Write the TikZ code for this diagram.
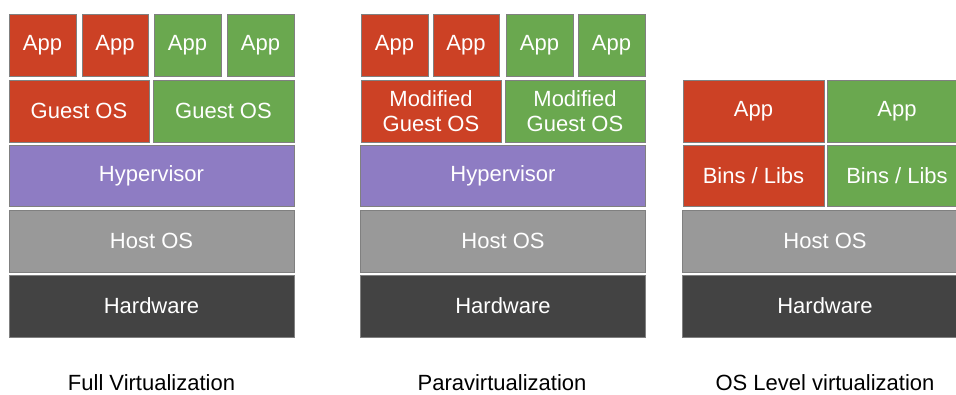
\documentclass[tikz,border=0pt]{standalone}
\usepackage{fontspec}
\setmainfont{Liberation Sans}
\definecolor{appred}{HTML}{CC4125}
\definecolor{appgreen}{HTML}{6AA84F}
\definecolor{hyppurple}{HTML}{8E7CC3}
\definecolor{hostgray}{HTML}{999999}
\definecolor{hwdark}{HTML}{434343}
\begin{document}
\begin{tikzpicture}[x=1pt,y=-1pt,
  box/.style={draw=black!50,line width=.8pt,text=white,inner sep=0pt,minimum height=62pt,
    align=center,font=\fontsize{22}{25}\selectfont},
  redbox/.style={box,fill=appred},
  greenbox/.style={box,fill=appgreen},
  hypbox/.style={box,fill=hyppurple,minimum width=285pt,minimum height=61pt},
  hostbox/.style={box,fill=hostgray,minimum width=285pt},
  hwbox/.style={box,fill=hwdark,minimum width=285pt},
  caption/.style={font=\fontsize{22}{25}\selectfont}]
\clip (0,0) rectangle (956,394);
% full virtualization
\node (fapp1) at (42.5,45) [redbox,minimum width=67pt] {App};
\node (fapp2) at (115,45) [redbox,minimum width=66pt] {App};
\node (fapp3) at (187.5,45) [greenbox,minimum width=67pt] {App};
\node (fapp4) at (260.5,45) [greenbox,minimum width=67pt] {App};
\node (fgos1) at (79,111) [redbox,minimum width=140pt] {Guest OS};
\node (fgos2) at (223.5,111) [greenbox,minimum width=141pt] {Guest OS};
\node (fhyp) at (151.5,176) [hypbox] {Hypervisor};
\node (fhost) at (151.5,241) [hostbox] {Host OS};
\node (fhw) at (151.5,306) [hwbox] {Hardware};
\node (fcap) at (151.5,383) [caption] {Full Virtualization};
% paravirtualization
\node (papp1) at (394.5,45) [redbox,minimum width=67pt] {App};
\node (papp2) at (466,45) [redbox,minimum width=66pt] {App};
\node (papp3) at (539.5,45) [greenbox,minimum width=67pt] {App};
\node (papp4) at (611.5,45) [greenbox,minimum width=67pt] {App};
\node (pgos1) at (431,111) [redbox,minimum width=140pt] {Modified\\Guest OS};
\node (pgos2) at (575,111) [greenbox,minimum width=140pt] {Modified\\Guest OS};
\node (phyp) at (503,176) [hypbox] {Hypervisor};
\node (phost) at (503,241) [hostbox] {Host OS};
\node (phw) at (503,306) [hwbox] {Hardware};
\node (pcap) at (502,383) [caption] {Paravirtualization};
% os level virtualization
\node (oapp1) at (753.5,111) [redbox,minimum width=141pt] {App};
\node (oapp2) at (897,111) [greenbox,minimum width=140pt] {App};
\node (obin1) at (753.5,176) [redbox,minimum width=141pt,minimum height=61pt] {Bins / Libs};
\node (obin2) at (897,176) [greenbox,minimum width=140pt,minimum height=61pt] {Bins / Libs};
\node (ohost) at (825,241) [hostbox] {Host OS};
\node (ohw) at (825,306) [hwbox] {Hardware};
\node (ocap) at (825,383) [caption] {OS Level virtualization};
\end{tikzpicture}
\end{document}
